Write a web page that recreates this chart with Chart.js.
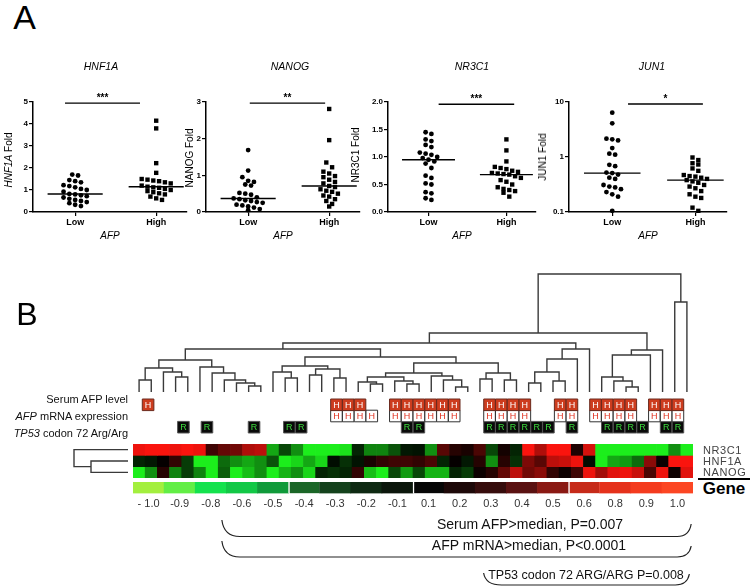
<!DOCTYPE html>
<html>
<head>
<meta charset="utf-8">
<title>AFP dot plots and expression heatmap</title>
<script src="https://cdn.jsdelivr.net/npm/chart.js@4.4.1/dist/chart.umd.min.js"></script>
<style>
  html, body { margin: 0; padding: 0; background: #fff; }
  body { position: relative; width: 754px; height: 587px; overflow: hidden;
         font-family: "Liberation Sans", Arial, sans-serif; color: #000; }
  canvas { position: absolute; }
  .t { position: absolute; white-space: nowrap; line-height: 1; }
</style>
</head>
<body>
<script>
// ---------- Panel A data (fold change per tumour) ----------
const groupLabels = ['Low', 'High'];
const hnf1aLow  = [1.70, 1.66, 1.45, 1.40, 1.35, 1.22, 1.18, 1.12, 1.05, 1.00, 0.92, 0.82, 0.80, 0.76, 0.72, 0.66, 0.60, 0.55, 0.50, 0.45, 0.40, 0.33, 0.27];
const hnf1aHigh = [4.15, 3.80, 2.22, 1.78, 1.50, 1.47, 1.43, 1.40, 1.35, 1.30, 1.20, 1.15, 1.12, 1.10, 1.05, 1.00, 0.95, 0.90, 0.85, 0.80, 0.70, 0.62, 0.55];
const nanogLow  = [1.69, 1.13, 0.95, 0.85, 0.82, 0.75, 0.72, 0.52, 0.50, 0.47, 0.40, 0.37, 0.35, 0.32, 0.30, 0.27, 0.25, 0.20, 0.18, 0.15, 0.12, 0.08, 0.05];
const nanogHigh = [2.81, 1.96, 1.35, 1.22, 1.10, 1.05, 0.98, 0.95, 0.88, 0.82, 0.78, 0.71, 0.68, 0.62, 0.58, 0.55, 0.50, 0.45, 0.42, 0.35, 0.30, 0.22, 0.15];
const nr3c1Low  = [1.45, 1.42, 1.32, 1.29, 1.22, 1.18, 1.08, 1.06, 1.04, 1.00, 0.98, 0.95, 0.92, 0.88, 0.80, 0.66, 0.62, 0.52, 0.50, 0.36, 0.34, 0.25, 0.22];
const nr3c1High = [1.32, 1.12, 0.92, 0.82, 0.80, 0.78, 0.75, 0.73, 0.71, 0.70, 0.69, 0.68, 0.65, 0.62, 0.58, 0.55, 0.50, 0.45, 0.42, 0.40, 0.38, 0.35, 0.28];
const jun1Low   = [6.4, 4.1, 2.15, 2.1, 2.0, 1.45, 1.15, 1.10, 0.72, 0.68, 0.52, 0.51, 0.48, 0.42, 0.40, 0.31, 0.29, 0.28, 0.26, 0.23, 0.21, 0.19, 0.105];
const jun1High  = [0.98, 0.88, 0.77, 0.73, 0.62, 0.56, 0.47, 0.45, 0.44, 0.42, 0.40, 0.38, 0.36, 0.34, 0.31, 0.29, 0.27, 0.24, 0.21, 0.19, 0.18, 0.12, 0.105];

const panelGenes = ['HNF1A', 'NANOG', 'NR3C1', 'JUN1'];
const panelStars = ['***', '**', '***', '*'];
const panelYMin = [0, 0, 0, 0.1];
const panelYMax = [5, 3, 2, 10];
const panelYTicks = [[0, 1, 2, 3, 4, 5], [0, 1, 2, 3], [0, 0.5, 1, 1.5, 2], [0.1, 1, 10]];
const panelYTickText = [['0', '1', '2', '3', '4', '5'], ['0', '1', '2', '3'], ['0.0', '0.5', '1.0', '1.5', '2.0'], ['0.1', '1', '10']];
const sigFrom = [0.875, 1.02, 1.13, 1.19];
const sigTo = [1.80, 1.95, 2.10, 2.09];
const sigY = [4.95, 2.97, 1.96, 9.2];

// ---------- Panel B data ----------
const heatGenes = ['NR3C1', 'HNF1A', 'NANOG'];
const nr3c1Expr = [0.95, 1, 1, 0.95, 1, 0.95, 0.25, 0.4, 0.45, 0.7, 0.75, -0.7, -0.3, -0.6, -1, -1, -1, -0.95, -0.15, -0.55,
                   -0.55, -0.35, -0.1, -0.08, -0.6, 0.35, 0.15, 0.1, 0.3, -0.3, 0.08, -0.15, 1, 0.7, 1, 1, 0.12, 0.85,
                   -1, -1, -1, -1, -1, -1, -0.6, -1];
const hnf1aExpr = [-0.15, -0.1, 0.02, 0.2, -0.25, -1, -1, -0.45, -0.6, -0.7, -0.6, -0.35, -1, -0.9, -0.7, -0.9, -0.05, -0.2, -0.08, 0.1,
                   0.2, 0.25, 0.25, 0.2, 0.3, -0.15, 0.02, -0.1, 0.15, -0.6, 0.15, -0.2, 0.5, 0.35, 0.75, 0.8, 0.95, -0.05,
                   -1, -0.7, -0.65, -0.45, 0.55, 0.05, 1, 1];
const nanogExpr = [-1, -0.6, 0.15, -0.55, -0.25, -0.55, -1, -0.4, -1, -0.8, -0.6, -1, -0.75, -0.6, -0.9, -0.15, -0.2, -0.15, 0.2, -0.8,
                   -1, -0.3, -0.65, -0.3, -0.75, -0.75, -0.15, -0.25, 0.05, 0.15, 0.4, 0.75, 0.45, 0.55, 0.2, 0.05, 0.25, 0.95,
                   0.65, 0.9, 0.95, 0.8, 0.3, 0.95, 0.05, 0.9];

// annotation tracks: column indices flagged in each track
const serumAfpHigh = [0, 16, 17, 18, 21, 22, 23, 24, 25, 26, 29, 30, 31, 32, 35, 36, 38, 39, 40, 41, 43, 44, 45];
const afpMrnaHigh  = [16, 17, 18, 19, 21, 22, 23, 24, 25, 26, 29, 30, 31, 32, 35, 36, 38, 39, 40, 41, 43, 44, 45];
const tp53ArgArg   = [3, 5, 9, 12, 13, 22, 23, 29, 30, 31, 32, 33, 34, 36, 39, 40, 41, 42, 44, 45];

// sample dendrogram (hclust style: negative = leaf column, positive = earlier merge)
const colMergeA = [-1, -4, -3, 1, -10, -9, -8, -7, -6, 4, -13, -12, -15, -17, 13, 12, -20, -19, -23, -22, 18, -27, -26, -25, 21,
                   -29, -31, 26, 25, 16, 10, -33, -35, 32, 34, 35, 31, -41, -40, -39, 40, 41, 37, -45, 43];
const colMergeB = [-2, -5, 2, 3, -11, 5, 6, 7, 8, 9, -14, 11, -16, -18, 14, 15, -21, 17, -24, 19, 20, -28, 22, 23, 24,
                   -30, -32, 27, 28, 29, 30, -34, -36, 33, -37, -38, 36, -42, 38, 39, -43, -44, 42, -46, 44];
const colMergeH = [12, 15, 20, 24, 6, 9, 12, 19, 25, 32, 14, 20, 17, 14, 23, 26, 8, 10, 8, 11, 15, 5, 12, 16, 19,
                   13, 12, 19, 29, 35, 43, 9, 11, 20, 33, 43, 49, 5, 11, 15, 37, 42, 59, 90, 118];
// gene dendrogram
const rowMergeA = [-2, -1];
const rowMergeB = [-3, 1];
const rowMergeH = [37, 54];

const colorbarLabels = ['- 1.0', '-0.9', '-0.8', '-0.6', '-0.5', '-0.4', '-0.3', '-0.2', '-0.1', '0.1', '0.2', '0.3', '0.4', '0.5', '0.6', '0.8', '0.9', '1.0'];
const colorbarColors = ['#a3ef3e', '#62ee45', '#14e24d', '#12c846', '#109a3a', '#1b6627', '#14421c', '#0e2912', '#0b160b', '#060606',
                        '#1d0808', '#360c0c', '#5a1111', '#8a1913', '#c62a19', '#e5311b', '#f43b1e', '#fc4623'];

const braceFrom = [7.3, 7.3, 28.8];
const braceTo = [45.85, 45.85, 45.7];

// ---------- helpers ----------
const FONT = '"Liberation Sans", Arial, sans-serif';
Chart.defaults.font.family = FONT;
Chart.defaults.color = '#000';

const heatCols = nr3c1Expr.length;

function addCanvas(left, top, w, h) {
    const c = document.createElement('canvas');
    c.width = w; c.height = h;
    c.style.left = left + 'px'; c.style.top = top + 'px';
    c.style.width = w + 'px'; c.style.height = h + 'px';
    document.body.appendChild(c);
    return c;
}

function place(html, x, y, css, anchor, rotate) {
    const d = document.createElement('div');
    d.className = 't';
    d.innerHTML = html;
    d.style.cssText += css;
    d.style.left = x + 'px';
    d.style.top = y + 'px';
    const tx = anchor === 'right' ? '-100%' : anchor === 'left' ? '0' : '-50%';
    d.style.transform = `translate(${tx},-50%)` + (rotate ? ' rotate(-90deg)' : '');
    document.body.appendChild(d);
}

function median(arr) {
    const s = [...arr].sort((a, b) => a - b);
    const m = s.length >> 1;
    return s.length % 2 ? s[m] : (s[m - 1] + s[m]) / 2;
}

// simple beeswarm: points closer than one marker vertically share a row
function swarm(values, toPx, unitPx) {
    const order = values.map((v, k) => k).sort((a, b) => values[b] - values[a]);
    const off = new Array(values.length).fill(0);
    let bin = [];
    const flush = () => {
        bin.forEach((k, j) => { off[k] = (j - (bin.length - 1) / 2) * 5.8 / unitPx; });
        bin = [];
    };
    order.forEach(k => {
        if (bin.length && Math.abs(toPx(values[bin[0]]) - toPx(values[k])) > 5) flush();
        bin.push(k);
    });
    flush();
    return off;
}

function heatColor(v) {
    const a = Math.min(1, Math.abs(v));
    return v >= 0
        ? `rgb(${Math.round(250 * a)},${Math.round(20 * a)},${Math.round(14 * a)})`
        : `rgb(${Math.round(28 * a)},${Math.round(238 * a)},${Math.round(28 * a)})`;
}

function dendroSegments(mergeA, mergeB, mergeH) {
    const nodePos = [], segs = [];
    const at = id => id < 0 ? [-id - 0.5, 0] : [nodePos[id - 1], mergeH[id - 1]];
    mergeA.forEach((a, k) => {
        const [pa, ha] = at(a), [pb, hb] = at(mergeB[k]), h = mergeH[k];
        segs.push([[pa, ha], [pa, h], [pb, h], [pb, hb]]);
        nodePos.push((pa + pb) / 2);
    });
    return segs;
}

const baseOpts = {
    animation: false, responsive: false, events: [],
    plugins: { legend: { display: false }, tooltip: { enabled: false } }
};

// ---------- Panel A: four dot plots ----------
const panelLow = [hnf1aLow, nanogLow, nr3c1Low, jun1Low];
const panelHigh = [hnf1aHigh, nanogHigh, nr3c1High, jun1High];
const axisX = [33, 206, 388, 569];
const unitPx = [81, 81, 78, 83];
const X_MIN = 0.48, X_MAX = 2.38;

const starPlugin = {
    id: 'stars',
    afterDatasetsDraw(chart) {
        const meta = chart.getDatasetMeta(4);
        const p0 = meta.data[0], p1 = meta.data[1];
        const ctx = chart.ctx;
        ctx.save();
        ctx.font = 'bold 10px ' + FONT;
        ctx.fillStyle = '#000';
        ctx.textAlign = 'center';
        ctx.textBaseline = 'middle';
        ctx.fillText(chart.options.plugins.stars.text, (p0.x + p1.x) / 2, p0.y - 5);
        ctx.restore();
    }
};

panelGenes.forEach((gene, i) => {
    const isLog = i === 3;
    const min = panelYMin[i], max = panelYMax[i];
    const toPx = v => isLog ? Math.log10(v / min) / Math.log10(max / min) * 110 : (v - min) / (max - min) * 110;
    const upx = unitPx[i];
    const plotW = (X_MAX - X_MIN) * upx;
    const low = panelLow[i], high = panelHigh[i];
    const offL = swarm(low, toPx, upx), offH = swarm(high, toPx, upx);
    const medL = median(low), medH = median(high);
    const lineDs = pts => ({ type: 'line', data: pts, borderColor: '#000', borderWidth: 1.4, pointRadius: 0, clip: false });

    new Chart(addCanvas(axisX[i] - 30, 55, Math.round(30 + plotW + 4), 187), {
        type: 'scatter',
        data: {
            datasets: [
                { data: low.map((v, k) => ({ x: 1 + offL[k], y: v })), pointStyle: 'circle', pointRadius: 2.4,
                  backgroundColor: '#000', borderWidth: 0, clip: false },
                { data: high.map((v, k) => ({ x: 2 + offH[k], y: v })), pointStyle: 'rect', pointRadius: 3.1,
                  backgroundColor: '#000', borderWidth: 0, clip: false },
                lineDs([{ x: 1 - 0.34, y: medL }, { x: 1 + 0.34, y: medL }]),
                lineDs([{ x: 2 - 0.34, y: medH }, { x: 2 + 0.34, y: medH }]),
                lineDs([{ x: sigFrom[i], y: sigY[i] }, { x: sigTo[i], y: sigY[i] }])
            ]
        },
        options: {
            ...baseOpts,
            layout: { padding: { top: 47, right: 4, left: 0, bottom: 0 } },
            plugins: { ...baseOpts.plugins, stars: { text: panelStars[i] } },
            scales: {
                x: {
                    type: 'linear', min: X_MIN, max: X_MAX,
                    afterBuildTicks: s => { s.ticks = [{ value: 1 }, { value: 2 }]; },
                    ticks: { callback: (v, k) => groupLabels[k], font: { size: 9, weight: 'bold' }, color: '#000', padding: 1, maxRotation: 0 },
                    grid: { drawOnChartArea: false, tickLength: 4, color: '#000', lineWidth: 1.2 },
                    border: { color: '#000', width: 1.5 },
                    title: { display: true, text: 'AFP', font: { size: 10, style: 'italic' }, color: '#000', padding: 0 },
                    afterFit: s => { s.height = 30; }
                },
                y: {
                    type: isLog ? 'logarithmic' : 'linear', min, max,
                    afterBuildTicks: s => { s.ticks = panelYTicks[i].map(v => ({ value: v })); },
                    ticks: { callback: (v, k) => panelYTickText[i][k], font: { size: 8, weight: 'bold' }, color: '#000', padding: 1 },
                    grid: { drawOnChartArea: false, tickLength: 4, color: '#000', lineWidth: 1.2 },
                    border: { color: '#000', width: 1.5 },
                    afterFit: s => { s.width = 30; }
                }
            }
        },
        plugins: [starPlugin]
    });
});

place('A', 24.5, 17, 'font-size:34px');
place('<i>HNF1A</i>', 101, 66, 'font-size:10.5px');
place('<i>NANOG</i>', 290, 66, 'font-size:10.5px');
place('<i>NR3C1</i>', 472, 66, 'font-size:10.5px');
place('<i>JUN1</i>', 652, 66, 'font-size:10.5px');
place('<i>HNF1A</i> Fold', 9, 160, 'font-size:10px', null, true);
place('NANOG Fold', 190, 158, 'font-size:10px', null, true);
place('NR3C1 Fold', 356, 155, 'font-size:10px', null, true);
place('JUN1 Fold', 543, 157, 'font-size:10px', null, true);

// ---------- Panel B ----------
place('B', 27, 313.5, 'font-size:32px');

const dendroLine = { showLine: true, spanGaps: false, borderColor: '#3a3a3a', borderWidth: 1.4, pointRadius: 0, clip: false };

// sample dendrogram on top
const colSegs = dendroSegments(colMergeA, colMergeB, colMergeH);
new Chart(addCanvas(133, 270, 560, 126), {
    type: 'scatter',
    data: { datasets: [{ ...dendroLine,
        data: colSegs.flatMap(s => [...s.map(([p, h]) => ({ x: p, y: h })), { x: s[3][0], y: null }]) }] },
    options: { ...baseOpts, layout: { padding: { top: 4, bottom: 4 } },
        scales: { x: { type: 'linear', min: 0, max: heatCols, display: false },
                  y: { type: 'linear', min: 0, max: colMergeH[colMergeH.length - 1], display: false } } }
});

// annotation tracks
const letterPlugin = {
    id: 'letters',
    afterDatasetsDraw(chart) {
        const ctx = chart.ctx;
        ctx.save();
        ctx.font = '9px ' + FONT;
        ctx.textAlign = 'center';
        ctx.textBaseline = 'middle';
        chart.data.datasets.forEach((ds, d) => {
            ctx.fillStyle = ds.letterColor;
            chart.getDatasetMeta(d).data.forEach(pt => ctx.fillText(ds.letter, pt.x, pt.y + 0.5));
        });
        ctx.restore();
    }
};
const track = (cols, row, fill, border, letter, letterColor) => ({
    data: cols.map(c => ({ x: c + 0.5, y: row })), pointStyle: 'rect', pointRadius: 8.2,
    backgroundColor: fill, borderColor: border, borderWidth: 1, letter, letterColor, clip: false
});
new Chart(addCanvas(133, 390, 560, 52), {
    type: 'scatter',
    data: { datasets: [
        track(serumAfpHigh, 0, '#cd3c1e', '#6a2a1e', 'H', '#ffffff'),
        track(afpMrnaHigh, 1, '#ffffff', '#333333', 'H', '#e0301e'),
        track(tp53ArgArg, 2, '#0a0a0a', '#555555', 'R', '#3ddc3d')
    ] },
    options: { ...baseOpts,
        scales: { x: { type: 'linear', min: 0, max: heatCols, display: false },
                  y: { type: 'linear', min: -0.5, max: 2.5, reverse: true, display: false } } },
    plugins: [letterPlugin]
});
place('Serum AFP level', 128, 399, 'font-size:11px;color:#111', 'right');
place('<i>AFP</i> mRNA expression', 128, 416, 'font-size:11px;color:#111', 'right');
place('<i>TP53</i> codon 72 Arg/Arg', 128, 433, 'font-size:11px;color:#111', 'right');

// heatmap
const heatRows = [nr3c1Expr, hnf1aExpr, nanogExpr];
new Chart(addCanvas(133, 444, 560, 34), {
    type: 'bar',
    data: { datasets: heatRows.map((vals, r) => ({
        data: vals.map((v, c) => ({ x: c + 0.5, y: [r, r + 1] })),
        backgroundColor: vals.map(heatColor),
        borderWidth: 0, grouped: false, barPercentage: 1, categoryPercentage: 1
    })) },
    options: { ...baseOpts,
        scales: { x: { type: 'linear', min: 0, max: heatCols, offset: false, display: false },
                  y: { type: 'linear', min: 0, max: heatGenes.length, reverse: true, display: false } } }
});

// gene dendrogram on the left
const rowSegs = dendroSegments(rowMergeA, rowMergeB, rowMergeH);
new Chart(addCanvas(68, 444, 64, 34), {
    type: 'scatter',
    data: { datasets: [{ ...dendroLine,
        data: rowSegs.flatMap(s => [...s.map(([p, h]) => ({ x: h, y: p })), { x: 0, y: null }]) }] },
    options: { ...baseOpts, layout: { padding: { left: 6, right: 4 } },
        scales: { x: { type: 'linear', min: 0, max: rowMergeH[rowMergeH.length - 1], reverse: true, display: false },
                  y: { type: 'linear', min: 0, max: heatGenes.length, reverse: true, display: false } } }
});

heatGenes.forEach((g, r) => place(g, 703, 450 + r * 11, 'font-size:11px;color:#444;letter-spacing:0.6px', 'left'));
place('Gene', 724, 488, 'font-size:17px;font-weight:bold');
const rule = document.createElement('div');
rule.style.cssText = 'position:absolute;left:698px;top:478px;width:52px;height:2px;background:#000';
document.body.appendChild(rule);

// colour key and brackets
const colorbarBreaks = [5, 9, 14];
const CB_TOP = 478;
const braceTopL = [520, 541, 573], braceBottom = [536.5, 557, 585], braceTopR = [524, 546, 574];
const bracePlugin = {
    id: 'braces',
    afterDraw(chart) {
        const ctx = chart.ctx, xs = chart.scales.x;
        const px = c => xs.getPixelForValue(c * colorbarLabels.length / heatCols);
        ctx.save();
        ctx.strokeStyle = '#222';
        ctx.lineWidth = 1.2;
        braceFrom.forEach((c0, k) => {
            const x0 = px(c0), x1 = px(braceTo[k]);
            const yl = braceTopL[k] - CB_TOP, yb = braceBottom[k] - CB_TOP, yr = braceTopR[k] - CB_TOP;
            ctx.beginPath();
            ctx.moveTo(x0, yl);
            ctx.quadraticCurveTo(x0 + 2, yb, x0 + 18, yb);
            ctx.lineTo(x1 - 14, yb);
            ctx.quadraticCurveTo(x1 - 2, yb, x1, yr);
            ctx.stroke();
        });
        ctx.restore();
    }
};
new Chart(addCanvas(133, CB_TOP, 560, 109), {
    type: 'bar',
    data: { datasets: [{
        data: colorbarLabels.map((_, i) => ({ x: i + 0.5, y: [0, 1] })),
        backgroundColor: colorbarColors,
        borderColor: '#ffffff',
        borderWidth: ctx => colorbarBreaks.includes(ctx.dataIndex) ? { left: 1.5 } : 0,
        borderSkipped: false, barPercentage: 1, categoryPercentage: 1
    }] },
    options: { ...baseOpts,
        layout: { padding: { top: 4 } },
        scales: {
            x: { type: 'linear', min: 0, max: colorbarLabels.length, offset: false,
                 afterBuildTicks: s => { s.ticks = colorbarLabels.map((_, i) => ({ value: i + 0.5 })); },
                 ticks: { callback: (v, k) => colorbarLabels[k], autoSkip: false, maxRotation: 0, font: { size: 11 }, color: '#333', padding: 4 },
                 grid: { display: false, drawTicks: false }, border: { display: false },
                 afterFit: s => { s.height = 93.5; } },
            y: { display: false, min: 0, max: 1 }
        } },
    plugins: [bracePlugin]
});

place('Serum AFP&gt;median, P=0.007', 530, 524, 'font-size:14px;color:#111');
place('AFP mRNA&gt;median, P&lt;0.0001', 529, 545, 'font-size:14px;color:#111');
place('TP53 codon 72 ARG/ARG P=0.008', 586, 575, 'font-size:12.5px;color:#111');
</script>
</body>
</html>
